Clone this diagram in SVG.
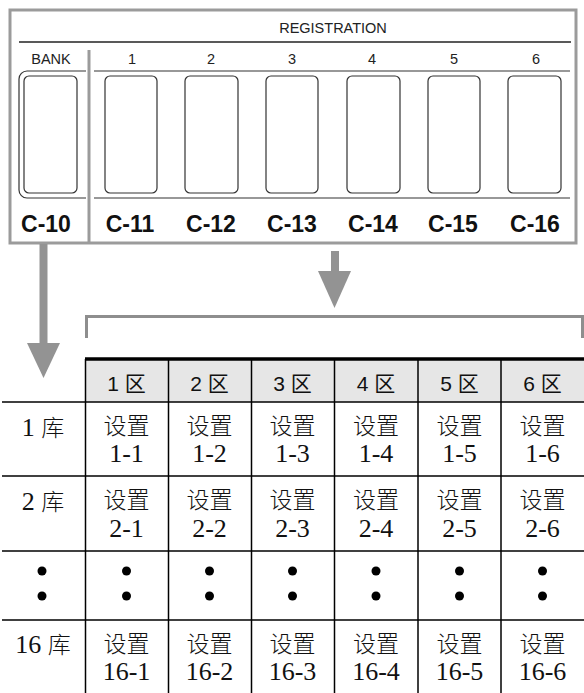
<svg xmlns="http://www.w3.org/2000/svg" width="584" height="693" viewBox="0 0 584 693">
<style>
.frame{fill:none;stroke:#9b9b9b;stroke-width:3}
.thin{fill:none;stroke:#333;stroke-width:1.2}
.btn{fill:#fff;stroke:#333;stroke-width:1.2}
.lbl{font-family:"Liberation Sans","DejaVu Sans",sans-serif;font-size:14.5px;fill:#222;text-anchor:middle}
.cl{font-family:"Liberation Sans",Arial,sans-serif;font-weight:bold;font-size:23px;fill:#111;text-anchor:middle}
.arr{fill:#939393}
.grid{stroke:#000;stroke-width:1.5;fill:none}
.hd{font-family:"Liberation Sans","Noto Sans CJK SC",sans-serif;font-size:21px;fill:#111;text-anchor:middle}
.cj{font-family:"Noto Sans CJK SC",sans-serif;font-size:23px;fill:#111;text-anchor:middle;font-weight:300}
.nm{font-family:"Liberation Serif","Noto Sans CJK SC",serif;font-size:26px;fill:#111;text-anchor:middle}
</style>

<g id="panel">
  <rect class="frame" x="10" y="10" width="566" height="233"/>
  <line x1="19" y1="42" x2="571" y2="42" stroke="#222" stroke-width="1.6"/>
  <text class="lbl" x="333" y="33">REGISTRATION</text>
  <line x1="89" y1="50" x2="89" y2="243" stroke="#9b9b9b" stroke-width="3"/>
  <line class="thin" x1="94" y1="71" x2="570" y2="71"/>
  <line class="thin" x1="94" y1="198" x2="570" y2="198"/>
</g>

<g id="bank">
  <text class="lbl" x="51" y="64">BANK</text>
  <path class="thin" d="M86 71 H27 A8 8 0 0 0 19 79 V190 A8 8 0 0 0 27 198 H86"/>
  <rect class="btn" x="24" y="76" width="53" height="117" rx="5"/>
  <text class="cl" x="46" y="232">C-10</text>
</g>

<g id="reg1">
  <text class="lbl" x="132" y="64">1</text>
  <rect class="btn" x="105" y="76" width="52" height="117" rx="5"/>
  <text class="cl" x="130" y="232">C-11</text>
</g>
<g id="reg2">
  <text class="lbl" x="211" y="64">2</text>
  <rect class="btn" x="185" y="76" width="53" height="117" rx="5"/>
  <text class="cl" x="211" y="232">C-12</text>
</g>
<g id="reg3">
  <text class="lbl" x="292" y="64">3</text>
  <rect class="btn" x="266" y="76" width="52" height="117" rx="5"/>
  <text class="cl" x="292" y="232">C-13</text>
</g>
<g id="reg4">
  <text class="lbl" x="372" y="64">4</text>
  <rect class="btn" x="347" y="76" width="53" height="117" rx="5"/>
  <text class="cl" x="373" y="232">C-14</text>
</g>
<g id="reg5">
  <text class="lbl" x="454" y="64">5</text>
  <rect class="btn" x="428" y="76" width="52" height="117" rx="5"/>
  <text class="cl" x="453" y="232">C-15</text>
</g>
<g id="reg6">
  <text class="lbl" x="536" y="64">6</text>
  <rect class="btn" x="508" y="76" width="53" height="117" rx="5"/>
  <text class="cl" x="535" y="232">C-16</text>
</g>

<g id="connectors">
  <rect class="arr" x="39.5" y="244" width="8" height="101"/>
  <polygon class="arr" points="27,343 60,343 43.5,378"/>
  <rect class="arr" x="331" y="251" width="8" height="21"/>
  <polygon class="arr" points="318,271 351,271 334.5,308"/>
  <path d="M86.5 338 V316.5 H582.5 V338" fill="none" stroke="#8e8e8e" stroke-width="3"/>
</g>

<g id="table">
  <rect x="85" y="359" width="499" height="43" fill="#e6e6e6"/>
  <line x1="85" y1="359" x2="584" y2="359" stroke="#000" stroke-width="3.5"/>
  <line class="grid" x1="2" y1="402" x2="584" y2="402"/>
  <line class="grid" x1="2" y1="476" x2="584" y2="476"/>
  <line class="grid" x1="2" y1="551" x2="584" y2="551"/>
  <line class="grid" x1="2" y1="620" x2="584" y2="620"/>
  <line class="grid" x1="85.5" y1="359" x2="85.5" y2="693"/>
  <line class="grid" x1="168.5" y1="359" x2="168.5" y2="693"/>
  <line class="grid" x1="251.5" y1="359" x2="251.5" y2="693"/>
  <line class="grid" x1="334.5" y1="359" x2="334.5" y2="693"/>
  <line class="grid" x1="418" y1="359" x2="418" y2="693"/>
  <line class="grid" x1="501" y1="359" x2="501" y2="693"/>

  <text class="hd" x="126.5" y="391">1 区</text>
  <text class="hd" x="209.5" y="391">2 区</text>
  <text class="hd" x="292.5" y="391">3 区</text>
  <text class="hd" x="376" y="391">4 区</text>
  <text class="hd" x="459.5" y="391">5 区</text>
  <text class="hd" x="542.5" y="391">6 区</text>

  <text class="nm" x="43" y="436">1 <tspan style="font-family:'Noto Sans CJK SC',sans-serif;font-size:23px;font-weight:300">库</tspan></text>
  <text class="nm" x="43" y="510">2 <tspan style="font-family:'Noto Sans CJK SC',sans-serif;font-size:23px;font-weight:300">库</tspan></text>
  <text class="nm" x="43" y="653">16 <tspan style="font-family:'Noto Sans CJK SC',sans-serif;font-size:23px;font-weight:300">库</tspan></text>

  <g class="cj">
    <text x="126.5" y="434">设置</text><text x="209.5" y="434">设置</text><text x="292.5" y="434">设置</text>
    <text x="376" y="434">设置</text><text x="459.5" y="434">设置</text><text x="542.5" y="434">设置</text>
    <text x="126.5" y="508">设置</text><text x="209.5" y="508">设置</text><text x="292.5" y="508">设置</text>
    <text x="376" y="508">设置</text><text x="459.5" y="508">设置</text><text x="542.5" y="508">设置</text>
    <text x="126.5" y="652">设置</text><text x="209.5" y="652">设置</text><text x="292.5" y="652">设置</text>
    <text x="376" y="652">设置</text><text x="459.5" y="652">设置</text><text x="542.5" y="652">设置</text>
  </g>
  <g class="nm">
    <text x="126.5" y="462">1-1</text><text x="209.5" y="462">1-2</text><text x="292.5" y="462">1-3</text>
    <text x="376" y="462">1-4</text><text x="459.5" y="462">1-5</text><text x="542.5" y="462">1-6</text>
    <text x="126.5" y="537">2-1</text><text x="209.5" y="537">2-2</text><text x="292.5" y="537">2-3</text>
    <text x="376" y="537">2-4</text><text x="459.5" y="537">2-5</text><text x="542.5" y="537">2-6</text>
    <text x="126.5" y="680">16-1</text><text x="209.5" y="680">16-2</text><text x="292.5" y="680">16-3</text>
    <text x="376" y="680">16-4</text><text x="459.5" y="680">16-5</text><text x="542.5" y="680">16-6</text>
  </g>
  <g fill="#000">
    <circle cx="42" cy="571" r="4.5"/><circle cx="42" cy="596" r="4.5"/>
    <circle cx="126.5" cy="571" r="4.5"/><circle cx="126.5" cy="596" r="4.5"/>
    <circle cx="209.5" cy="571" r="4.5"/><circle cx="209.5" cy="596" r="4.5"/>
    <circle cx="292.5" cy="571" r="4.5"/><circle cx="292.5" cy="596" r="4.5"/>
    <circle cx="376" cy="571" r="4.5"/><circle cx="376" cy="596" r="4.5"/>
    <circle cx="459.5" cy="571" r="4.5"/><circle cx="459.5" cy="596" r="4.5"/>
    <circle cx="542.5" cy="571" r="4.5"/><circle cx="542.5" cy="596" r="4.5"/>
  </g>
</g>
</svg>
